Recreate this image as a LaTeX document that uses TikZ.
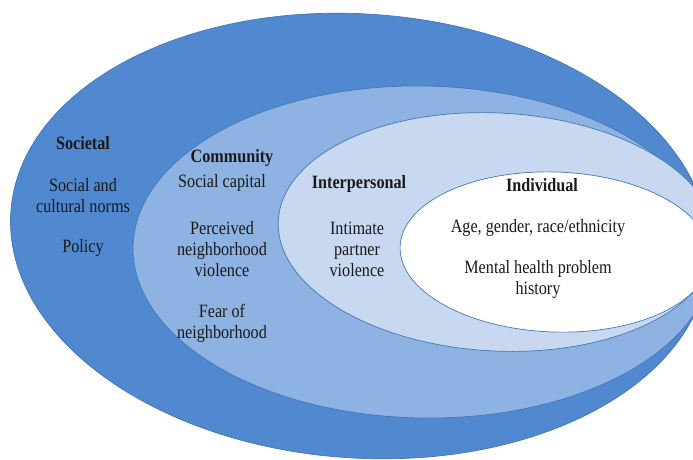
\documentclass[tikz,border=0pt]{standalone}
\usepackage{fontspec}
\setmainfont[FakeStretch=0.86]{Liberation Serif}
\usepackage{tikz}
\usetikzlibrary{shapes.geometric}
\definecolor{OuterBlue}{HTML}{5089CF}
\definecolor{MidBlue}{HTML}{8EB2E2}
\definecolor{PaleBlue}{HTML}{C7D8F0}
\definecolor{RimBlue}{HTML}{4676B8}
\definecolor{Ink}{HTML}{1A1A1A}

\begin{document}
\begin{tikzpicture}[x=1pt, y=-1pt,
    ring/.style={ellipse, draw=RimBlue, line width=0.7pt, inner sep=0pt},
    txt/.style={align=center, text=Ink, inner sep=0pt, font=\fontsize{18.8}{21}\selectfont},
    head/.style={txt, font=\fontsize{18.8}{21}\selectfont\bfseries}]
    \useasboundingbox (0,0) rectangle (693,459);
    \clip (0,0) rectangle (693,459);

    % the four nested levels, outermost first
    \node (societal) [ring, fill=OuterBlue, minimum width=700pt, minimum height=444pt, rotate=-4] at (360,236) {};
    \node (community) [ring, fill=MidBlue, minimum width=580pt, minimum height=332pt, rotate=-1] at (423,252) {};
    \node (interpersonal) [ring, fill=PaleBlue, minimum width=438pt, minimum height=238pt, rotate=-3] at (497,232) {};
    \node (individual) [ring, fill=white, minimum width=310pt, minimum height=160pt, rotate=-2] at (555,252) {};

    % societal level
    \node (socHead) [head] at (83,143) {Societal};
    \node (socNorms) [txt] at (83,196) {Social and\\cultural norms};
    \node (socPolicy) [txt] at (83,248) {Policy};

    % community level
    \node (comHead) [head] at (232,158) {Community};
    \node (comCapital) [txt] at (222,183) {Social capital};
    \node (comViolence) [txt] at (222,249) {Perceived\\neighborhood\\violence};
    \node (comFear) [txt] at (222,323) {Fear of\\neighborhood};

    % interpersonal level
    \node (intHead) [head] at (359,184) {Interpersonal};
    \node (intPartner) [txt] at (357,249) {Intimate\\partner\\violence};

    % individual level
    \node (indHead) [head] at (542,185) {Individual};
    \node (indTraits) [txt] at (538,228) {Age, gender, race/ethnicity};
    \node (indHistory) [txt] at (538,279) {Mental health problem\\history};
\end{tikzpicture}
\end{document}
